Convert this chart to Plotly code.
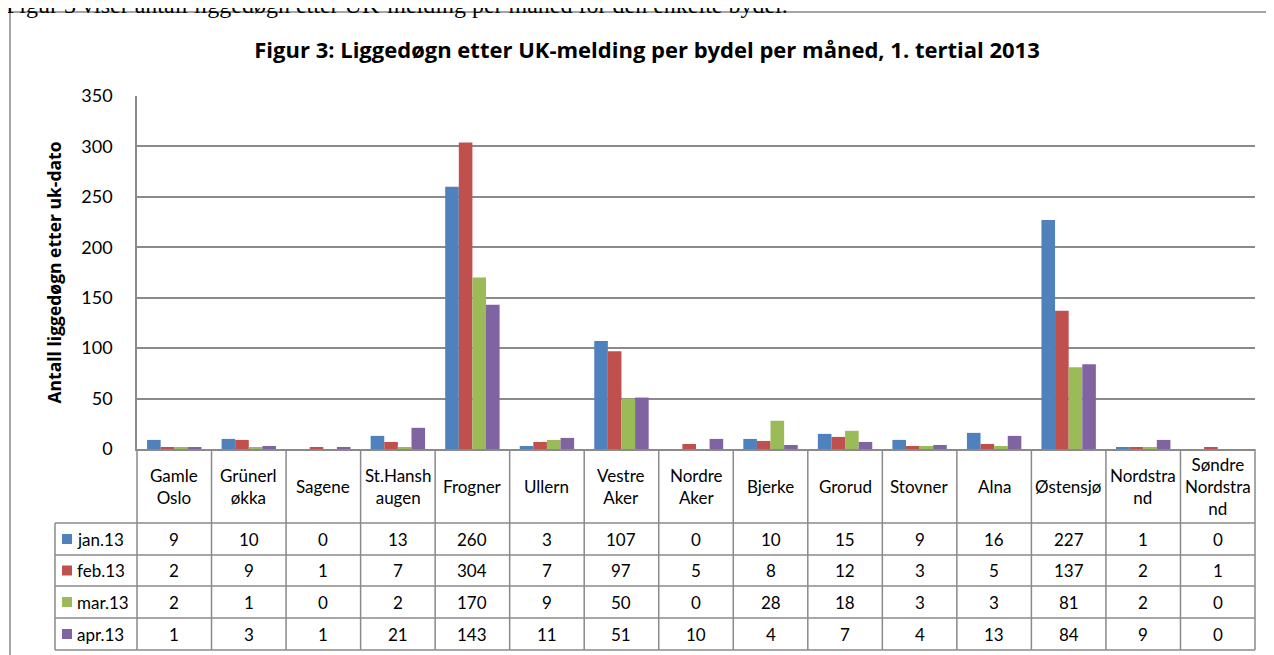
import plotly.graph_objects as go

# ---------------- data ----------------
districts = ["Gamle Oslo", "Grünerløkka", "Sagene", "St.Hanshaugen", "Frogner", "Ullern",
             "Vestre Aker", "Nordre Aker", "Bjerke", "Grorud", "Stovner", "Alna",
             "Østensjø", "Nordstrand", "Søndre Nordstrand"]
# wrapped header labels as shown in the data table
district_labels = ["Gamle<br>Oslo", "Grünerl<br>økka", "Sagene", "St.Hansh<br>augen", "Frogner",
                   "Ullern", "Vestre<br>Aker", "Nordre<br>Aker", "Bjerke", "Grorud", "Stovner",
                   "Alna", "Østensjø", "Nordstra<br>nd", "Søndre<br>Nordstra<br>nd"]
months = ["jan.13", "feb.13", "mar.13", "apr.13"]
jan13 = [9, 10, 0, 13, 260, 3, 107, 0, 10, 15, 9, 16, 227, 1, 0]
feb13 = [2, 9, 1, 7, 304, 7, 97, 5, 8, 12, 3, 5, 137, 2, 1]
mar13 = [2, 1, 0, 2, 170, 9, 50, 0, 28, 18, 3, 3, 81, 2, 0]
apr13 = [1, 3, 1, 21, 143, 11, 51, 10, 4, 7, 4, 13, 84, 9, 0]
series = [jan13, feb13, mar13, apr13]
colors = ["#4F81BD", "#C0504D", "#9BBB59", "#8064A2"]
y_ticks = [0, 50, 100, 150, 200, 250, 300, 350]

title_text = "Figur 3: Liggedøgn etter UK-melding per bydel per måned, 1. tertial 2013"
ytitle_text = "Antall liggedøgn etter uk-dato"
intro_text = "Figur 3 viser antall liggedøgn etter UK-melding per måned for den enkelte bydel."

# ---------------- layout geometry ----------------
# Reference-page pixel coordinates are used below; the page body has an 8px margin.
OFF = 8
W, H = 1274 - OFF, 655 - OFF
PLOT_L, PLOT_R, PLOT_T, PLOT_B = 137, 1255, 96, 449   # plot area in page pixels
L, R = PLOT_L - OFF, W - (PLOT_R - OFF)
T, B = PLOT_T - OFF, H - (PLOT_B - OFF)
PW, PH = PLOT_R - PLOT_L, PLOT_B - PLOT_T
GRID = "#8A8A8A"
FONT = "Lato"
BOLD_FONT = "Open Sans"


def px_x(px):
    return (px - PLOT_L) / PW


def px_y(py):
    return (PLOT_B - py) / PH


n = len(districts)
xs = list(range(n))

fig = go.Figure()
for name, vals, c in zip(months, series, colors):
    fig.add_trace(go.Bar(x=xs, y=vals, name=name,
                         marker=dict(color=c, line=dict(width=0)),
                         showlegend=False))

shapes = []
annotations = []

# table rows (page pixel y edges)
header_top, header_bot = 449, 523
row_edges = [523, 555, 586, 618, 650]
legend_left = 55

# vertical lines at category boundaries (header + data rows)
for i in range(n + 1):
    xp = i / n
    shapes.append(dict(type="line", xref="paper", yref="paper", x0=xp, x1=xp,
                       y0=px_y(header_top), y1=px_y(row_edges[-1]),
                       line=dict(color=GRID, width=1.5)))
# legend column left edge
shapes.append(dict(type="line", xref="paper", yref="paper", x0=px_x(legend_left), x1=px_x(legend_left),
                   y0=px_y(row_edges[0]), y1=px_y(row_edges[-1]), line=dict(color=GRID, width=1.5)))
# horizontal lines
for ry in row_edges:
    shapes.append(dict(type="line", xref="paper", yref="paper", x0=px_x(legend_left), x1=1,
                       y0=px_y(ry), y1=px_y(ry), line=dict(color=GRID, width=1.5)))

# header labels
for i, lab in enumerate(district_labels):
    annotations.append(dict(x=i, xref="x", y=px_y((header_top + header_bot) / 2), yref="paper",
                            text=lab, showarrow=False, xanchor="center", yanchor="middle",
                            font=dict(family=FONT, size=17, color="#000")))

# data cells + legend keys
for r, (name, vals, c) in enumerate(zip(months, series, colors)):
    yc = (row_edges[r] + row_edges[r + 1]) / 2
    for i, v in enumerate(vals):
        annotations.append(dict(x=i, xref="x", y=px_y(yc), yref="paper", text=str(v),
                                showarrow=False, xanchor="center", yanchor="middle",
                                font=dict(family=FONT, size=17, color="#000")))
    shapes.append(dict(type="rect", xref="paper", yref="paper", x0=px_x(62), x1=px_x(72),
                       y0=px_y(yc + 5), y1=px_y(yc - 5), fillcolor=c, line=dict(width=0)))
    annotations.append(dict(x=px_x(75), xref="paper", y=px_y(yc), yref="paper", text=name,
                            showarrow=False, xanchor="left", yanchor="middle",
                            font=dict(family=FONT, size=17, color="#000")))

# outer chart border
shapes.append(dict(type="rect", xref="paper", yref="paper", x0=px_x(10), x1=px_x(1290),
                   y0=px_y(680), y1=px_y(12), line=dict(color="#888888", width=1.5),
                   fillcolor="rgba(0,0,0,0)", layer="below"))

# intro text (partly cut off above the chart, as in the source page)
annotations.append(dict(x=px_x(4), xref="paper", y=px_y(20), yref="paper", text=intro_text,
                        showarrow=False, xanchor="left", yanchor="bottom",
                        font=dict(family="Liberation Serif", size=24, color="#000")))

fig.update_layout(
    width=W, height=H,
    margin=dict(l=L, r=R, t=T, b=B, autoexpand=False),
    paper_bgcolor="white", plot_bgcolor="white",
    barmode="group", bargap=0.27, bargroupgap=0,
    title=dict(text=title_text, x=(647 - OFF) / W, xanchor="center",
               y=1 - (50 - OFF) / H, yanchor="middle",
               font=dict(family=BOLD_FONT, size=22, color="#000", weight="bold")),
    xaxis=dict(range=[-0.5, n - 0.5], showticklabels=False, showgrid=False, zeroline=False,
               showline=True, linecolor=GRID, linewidth=1.5, ticks=""),
    yaxis=dict(range=[0, 350], tickvals=y_ticks, showgrid=True, gridcolor=GRID, gridwidth=1.5,
               zeroline=False, showline=True, linecolor=GRID, linewidth=1.5, ticks="",
               ticklabelstandoff=19,
               tickfont=dict(family=FONT, size=18, color="#000"),
               title=dict(text=ytitle_text, standoff=15,
                          font=dict(family=BOLD_FONT, size=17.5, color="#000", weight="bold"))),
    shapes=shapes, annotations=annotations,
)

fig.write_html("out.html")
